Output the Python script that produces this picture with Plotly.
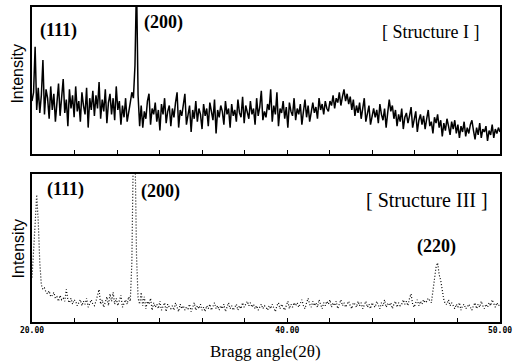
import numpy as np
import plotly.graph_objects as go

# ---------------- data ----------------
two_theta = [round(20 + 0.1 * i, 1) for i in range(301)]  # Bragg angle grid (deg)

structure_I = [
    36, 42, 73, 30, 45, 28, 40, 64, 27, 44,   # 20.x
    38, 24, 46, 30, 41, 22, 35, 48, 26, 39,   # 21.x
    51, 28, 37, 19, 44, 31, 40, 25, 46, 29,   # 22.x
    36, 22, 42, 33, 27, 45, 18, 38, 30, 43,   # 23.x
    26, 40, 31, 49, 24, 37, 29, 44, 21, 35,   # 24.x
    41, 27, 38, 23, 46, 30, 36, 20, 33, 25,   # 25.x
    38, 22, 30, 35, 42, 38, 60, 118, 40, 19,  # 26.x
    33, 18, 29, 24, 36, 41, 20, 31, 27, 35,   # 27.x
    22, 30, 16, 34, 27, 38, 21, 29, 33, 19,   # 28.x
    31, 25, 35, 42, 18, 30, 26, 34, 41, 20,   # 29.x
    28, 33, 15, 30, 24, 36, 22, 31, 27, 17,   # 30.x
    34, 26, 31, 19, 35, 28, 23, 37, 14, 30,   # 31.x
    25, 33, 29, 20, 36, 27, 31, 18, 34, 26,   # 32.x
    30, 22, 37, 28, 25, 39, 21, 33, 29, 24,   # 33.x
    36, 27, 31, 20, 38, 26, 32, 43, 23, 29,   # 34.x
    25, 34, 30, 44, 22, 33, 27, 42, 19, 31,   # 35.x
    28, 36, 24, 32, 18, 35, 29, 26, 38, 23,   # 36.x
    31, 27, 34, 20, 29, 37, 25, 33, 22, 30,   # 37.x
    35, 28, 32, 24, 38, 30, 34, 27, 36, 31,   # 38.x
    29, 36, 33, 40, 31, 38, 35, 42, 33, 39,   # 39.x
    44, 36, 41, 34, 39, 30, 37, 26, 33, 28,   # 40.x
    35, 24, 31, 38, 22, 29, 33, 20, 27, 31,   # 41.x
    25, 30, 21, 34, 27, 23, 31, 18, 28, 37,   # 42.x
    29, 33, 24, 30, 19, 27, 22, 31, 17, 25,   # 43.x
    28, 21, 26, 32, 18, 24, 29, 15, 23, 27,   # 44.x
    20, 26, 17, 24, 30, 19, 22, 14, 25, 21,   # 45.x
    27, 18, 23, 12, 21, 16, 24, 19, 13, 22,   # 46.x
    17, 23, 14, 20, 11, 19, 15, 22, 12, 18,   # 47.x
    14, 20, 23, 16, 10, 18, 13, 21, 11, 17,   # 48.x
    15, 19, 9, 16, 13, 20, 11, 17, 14, 18,    # 49.x
    15,                                       # 50.0
]

structure_III = [
    30, 45, 66, 86, 68, 40, 25, 22, 23, 20,   # 20.x
    19, 21, 17, 18, 20, 16, 17, 14, 18, 15,   # 21.x
    16, 14, 22, 15, 13, 16, 12, 15, 14, 11,   # 22.x
    13, 15, 11, 14, 12, 16, 10, 13, 15, 12,   # 23.x
    11, 14, 18, 22, 12, 15, 10, 13, 17, 11,   # 24.x
    19, 14, 20, 12, 16, 11, 14, 18, 10, 13,   # 25.x
    15, 12, 17, 14, 40, 120, 120, 45, 16, 12, # 26.x
    20, 11, 17, 9, 14, 12, 16, 8, 13, 10,     # 27.x
    12, 9, 14, 8, 11, 13, 7, 12, 10, 9,       # 28.x
    11, 8, 13, 10, 7, 12, 9, 11, 8, 10,       # 29.x
    9, 12, 7, 10, 13, 8, 11, 9, 12, 8,        # 30.x
    10, 7, 11, 9, 12, 8, 10, 13, 9, 11,       # 31.x
    8, 11, 9, 12, 7, 10, 13, 9, 11, 8,        # 32.x
    10, 12, 8, 11, 9, 13, 10, 12, 14, 11,     # 33.x
    13, 10, 12, 9, 11, 8, 10, 12, 9, 11,      # 34.x
    10, 8, 11, 9, 12, 10, 7, 11, 13, 9,       # 35.x
    12, 10, 8, 11, 14, 9, 12, 10, 13, 11,     # 36.x
    13, 10, 12, 15, 11, 9, 13, 16, 12, 10,    # 37.x
    14, 11, 13, 10, 15, 12, 9, 13, 11, 14,    # 38.x
    12, 15, 10, 13, 11, 14, 9, 12, 15, 11,    # 39.x
    13, 10, 12, 14, 11, 9, 13, 12, 10, 14,    # 40.x
    11, 13, 9, 12, 14, 10, 12, 9, 13, 11,     # 41.x
    10, 14, 12, 9, 13, 11, 15, 10, 12, 11,    # 42.x
    13, 9, 12, 14, 10, 13, 11, 12, 15, 12,    # 43.x
    14, 11, 16, 19, 12, 10, 13, 15, 11, 14,   # 44.x
    12, 15, 13, 14, 16, 14, 13, 21, 30, 37,   # 45.x
    40, 32, 28, 22, 15, 12, 12, 15, 11, 13,   # 46.x
    11, 9, 12, 10, 13, 8, 11, 12, 9, 10,      # 47.x
    12, 10, 8, 11, 13, 9, 12, 10, 14, 11,     # 48.x
    9, 12, 10, 13, 11, 15, 12, 10, 13, 11,    # 49.x
    12,                                       # 50.0
]

tick_labels = ["20.00", "", "", "", "", "", "40.00", "", "", "", "", "50.00"]

top_labels = ["(111)", "(200)", "[ Structure I ]"]
bottom_labels = ["(111)", "(200)", "[ Structure III ]", "(220)"]

# ---------------- layout helpers ----------------
W, H = 521, 362
L, R, T, B = 32, 21, 5, 40
PW, PH = W - L - R, H - T - B


def paper(xp, yp):
    return (xp - L) / PW, (H - B - yp) / PH


tick_pos = list(np.linspace(20, 50, len(tick_labels)))

fig = go.Figure()
fig.add_trace(go.Scatter(x=two_theta, y=structure_I, mode="lines",
                         line=dict(color="black", width=1.5),
                         xaxis="x", yaxis="y", showlegend=False))
fig.add_trace(go.Scatter(x=two_theta, y=structure_III, mode="lines",
                         line=dict(color="black", width=1.2, dash="1px,2px"),
                         xaxis="x2", yaxis="y2", showlegend=False))

serif = "Liberation Serif"
annos = []


def add_text(text, xp, yp, size, family=serif, angle=0, weight="bold"):
    x, y = paper(xp, yp)
    annos.append(dict(text=text, x=x, y=y, xref="paper", yref="paper", showarrow=False,
                      xanchor="center", yanchor="middle", textangle=angle,
                      font=dict(family=family, size=size, color="black", weight=weight)))


for text, (xp, yp), size, wt in zip(top_labels, [(58, 29), (163, 21), (430, 30)],
                                    [18, 18, 18], ["bold", "bold", "normal"]):
    add_text(text, xp, yp, size, weight=wt)
for text, (xp, yp), size, wt in zip(bottom_labels,
                                    [(65, 189), (160, 191), (427, 199), (436, 246)],
                                    [18, 18, 20, 18], ["bold", "bold", "normal", "bold"]):
    add_text(text, xp, yp, size, weight=wt)
for yp in (72, 248):
    add_text("Intensity", 18, yp, 16, family="Liberation Sans", angle=-90, weight="normal")
add_text("Bragg angle(2θ)", 265, 352, 17, weight="normal")

top_dom = [paper(0, 153)[1], 1.0]
bot_dom = [0.0, paper(0, 173)[1]]

axis_common = dict(range=[20, 50], showline=True, mirror=True, linecolor="black", linewidth=1.5,
                   showgrid=False, zeroline=False, ticks="inside", ticklen=4, tickwidth=1.2,
                   tickcolor="black", tickvals=tick_pos)
yaxis_common = dict(range=[0, 100], showline=True, mirror=True, linecolor="black", linewidth=1.5,
                    showgrid=False, zeroline=False, showticklabels=False, ticks="")

fig.update_layout(
    width=W, height=H,
    margin=dict(l=L, r=R, t=T, b=B),
    paper_bgcolor="white", plot_bgcolor="white",
    xaxis=dict(**axis_common, anchor="y", showticklabels=False),
    yaxis=dict(**yaxis_common, domain=top_dom, anchor="x"),
    xaxis2=dict(**axis_common, anchor="y2", ticktext=tick_labels,
                tickfont=dict(family="DejaVu Sans Mono", size=8, color="black", weight="bold")),
    yaxis2=dict(**yaxis_common, domain=bot_dom, anchor="x2"),
    annotations=annos,
)

fig.write_html("out.html", config={"displayModeBar": False},
               post_script="document.body.style.margin='0';document.body.style.overflow='hidden';")
